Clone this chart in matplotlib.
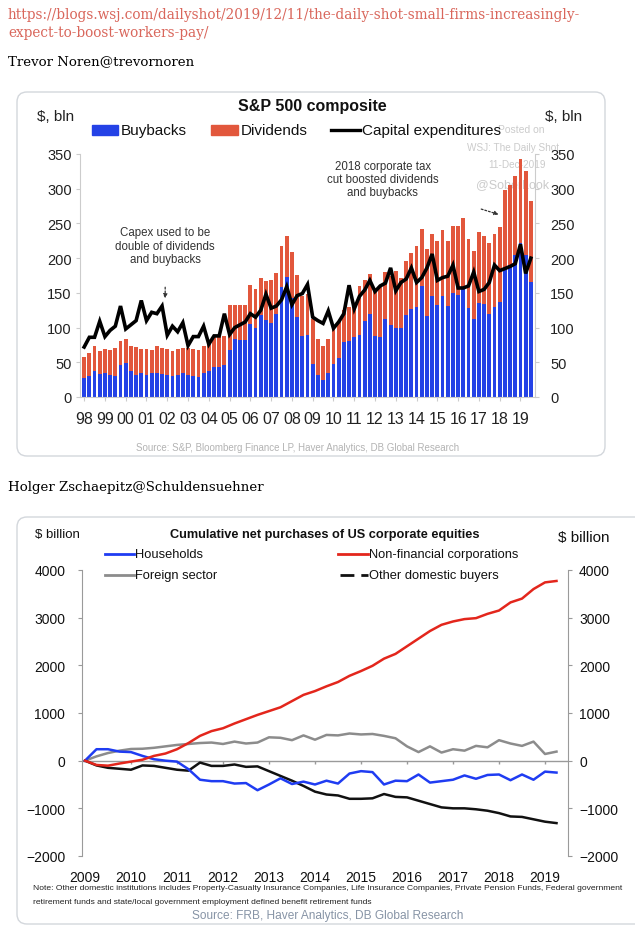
import numpy as np
import matplotlib
matplotlib.use("Agg")
import matplotlib.pyplot as plt
from matplotlib.patches import FancyBboxPatch, Rectangle
from matplotlib.lines import Line2D

# -----------------------------
# Data: S&P 500 composite (quarterly, $ bln)
# -----------------------------
YEAR_LABELS = ["98", "99", "00", "01", "02", "03", "04", "05", "06", "07", "08",
               "09", "10", "11", "12", "13", "14", "15", "16", "17", "18", "19"]

buybacks = [27, 30, 38, 33, 34, 31, 30, 46, 49, 37, 31, 34, 31, 34, 34, 33,
            31, 30, 31, 35, 31, 30, 29, 34, 38, 43, 43, 46, 67, 84, 82, 82,
            105, 100, 118, 111, 106, 119, 158, 173, 143, 115, 88, 89, 48, 31, 24, 34,
            48, 56, 79, 80, 86, 90, 110, 119, 88, 87, 112, 104, 100, 99, 118, 127,
            129, 160, 117, 145, 132, 145, 131, 150, 147, 155, 128, 112, 135, 134, 120, 130,
            137, 185, 190, 205, 222, 205, 165]

dividends = [30, 33, 36, 33, 35, 36, 40, 34, 34, 37, 41, 35, 38, 34, 39, 38,
             38, 36, 38, 36, 40, 39, 38, 40, 42, 44, 44, 42, 65, 48, 50, 50,
             56, 55, 54, 56, 62, 59, 59, 59, 66, 61, 58, 59, 64, 53, 49, 50,
             50, 54, 47, 49, 50, 70, 58, 58, 65, 73, 68, 71, 82, 73, 78, 81,
             89, 82, 96, 90, 93, 95, 93, 97, 99, 103, 100, 99, 103, 98, 102, 105,
             108, 113, 115, 113, 121, 120, 117]

capex = [72, 86, 86, 109, 87, 96, 102, 131, 98, 104, 110, 139, 110, 122, 120, 131,
         89, 102, 94, 107, 74, 87, 87, 102, 76, 88, 88, 120, 90, 100, 104, 108,
         120, 115, 125, 148, 128, 131, 140, 159, 133, 146, 149, 162, 115, 110, 106, 124,
         99, 108, 120, 161, 127, 145, 154, 168, 152, 160, 164, 186, 153, 165, 170, 186,
         165, 172, 186, 206, 168, 172, 174, 190, 157, 157, 160, 180, 152, 155, 165, 190,
         182, 185, 188, 192, 220, 178, 200]

# -----------------------------
# Data: cumulative net purchases of US equities (quarterly from 2009, $ billion)
# -----------------------------
EQ_YEARS = [2009, 2010, 2011, 2012, 2013, 2014, 2015, 2016, 2017, 2018, 2019]

households = [0, 240, 240, 190, 180, 100, 30, 0, -20, -180, -400, -430, -430, -480,
              -470, -620, -500, -370, -490, -440, -500, -420, -480, -270, -220, -240,
              -500, -420, -430, -290, -460, -430, -400, -310, -380, -300, -290, -410,
              -290, -400, -230, -250]

nonfin_corps = [0, -90, -105, -60, -20, 20, 100, 150, 240, 370, 520, 620, 680, 780,
                870, 960, 1040, 1120, 1250, 1380, 1460, 1560, 1650, 1780, 1880, 1990,
                2140, 2240, 2400, 2560, 2720, 2850, 2920, 2970, 2990, 3080, 3150, 3320,
                3400, 3600, 3740, 3770]

foreign = [0, 90, 160, 210, 245, 250, 270, 300, 330, 350, 370, 380, 350, 400,
           360, 380, 490, 480, 430, 530, 440, 540, 530, 570, 550, 560, 520, 470,
           300, 180, 300, 170, 240, 210, 310, 280, 430, 360, 310, 400, 140, 190]

other_domestic = [0, -100, -150, -170, -190, -100, -110, -150, -190, -210, -40, -110,
                  -110, -80, -130, -120, -220, -320, -420, -530, -650, -710, -730, -800,
                  -800, -790, -700, -760, -770, -840, -910, -980, -1000, -1000, -1020,
                  -1050, -1100, -1170, -1180, -1230, -1280, -1310]

# -----------------------------
# Layout helpers (pixel coords, origin top-left)
# -----------------------------
W, H = 635, 929
SANS = ["Liberation Sans", "DejaVu Sans"]
SERIF = ["DejaVu Serif"]
BLUE = "#2442e6"
RED = "#e2573c"


def rect(x0, y0, x1, y1):
    return [x0 / W, 1 - y1 / H, (x1 - x0) / W, (y1 - y0) / H]


def clear_bg(*axes):
    for a in axes:
        a.patch.set_visible(False)


def draw_page(bg):
    url = "#d9665b"
    bg.text(8, 15, "https://blogs.wsj.com/dailyshot/2019/12/11/the-daily-shot-small-firms-increasingly-",
            color=url, fontsize=9.8, family=SERIF, va="center")
    bg.text(8, 33, "expect-to-boost-workers-pay/", color=url, fontsize=9.8, family=SERIF, va="center")
    bg.text(8, 62, "Trevor Noren@trevornoren", color="black", fontsize=9.6, family=SERIF, va="center")
    bg.text(8, 488, "Holger Zschaepitz@Schuldensuehner", color="black", fontsize=9.6,
            family=SERIF, va="center")

    for (x, y, w, h) in [(17, 93, 588, 364), (17, 518, 650, 407)]:
        bg.add_patch(FancyBboxPatch((x, y), w, h, boxstyle="round,pad=0,rounding_size=10",
                                    fc="white", ec="#d3d7dc", lw=1.0))


def draw_buybacks(fig, bg):
    x = np.arange(len(buybacks))
    ax = fig.add_axes(rect(80, 155, 535, 398))
    ax.bar(x, buybacks, width=0.74, color=BLUE, zorder=2)
    ax.bar(x, dividends, bottom=buybacks, width=0.74, color=RED, zorder=2)
    ax.plot(x, capex, color="black", lw=2.6, zorder=3, solid_joinstyle="miter")

    ax.set_xlim(-0.8, len(x) - 0.2)
    ax.set_ylim(0, 350)
    ax.set_yticks(range(0, 351, 50))
    ax.set_xticks(x[::4])
    ax.set_xticklabels(YEAR_LABELS, family=SANS, fontsize=11.5, color="#222222")
    for s in ["top", "right"]:
        ax.spines[s].set_visible(False)
    for s in ["left", "bottom"]:
        ax.spines[s].set_color("#cccccc")
    ax.tick_params(axis="x", length=3, color="#cccccc", pad=7)
    ax.tick_params(axis="y", length=3, color="#cccccc", pad=3, labelsize=10.5, labelcolor="#222222")
    for t in ax.get_yticklabels():
        t.set_family(SANS)

    axr = ax.twinx()
    axr.set_ylim(0, 350)
    axr.set_yticks(range(0, 351, 50))
    for s in ["top", "left", "bottom"]:
        axr.spines[s].set_visible(False)
    axr.spines["right"].set_color("#cccccc")
    axr.tick_params(axis="y", length=3, color="#cccccc", pad=8, labelsize=10.5, labelcolor="#222222")
    for t in axr.get_yticklabels():
        t.set_family(SANS)
    clear_bg(ax, axr)

    # annotations
    ann = dict(fontsize=8.3, color="#333333", family=SANS, ha="center", linespacing=1.15)
    ax.annotate("Capex used to be\ndouble of dividends\nand buybacks", xy=(15.6, 142), xytext=(15.6, 218),
                va="center", arrowprops=dict(arrowstyle="-|>", ls=(0, (1.5, 1.5)), lw=0.9,
                                             color="#333333", mutation_scale=6,
                                             shrinkA=14, shrinkB=0), **ann)
    ax.annotate("2018 corporate tax\ncut boosted dividends\nand buybacks", xy=(79.8, 263), xytext=(57.5, 314),
                va="center", arrowprops=dict(arrowstyle="-|>", ls=(0, (1.5, 1.5)), lw=0.9,
                                             color="#333333", mutation_scale=6,
                                             shrinkA=30, shrinkB=0), **ann)

    # header, legend, watermark, source
    bg.text(312, 106, "S&P 500 composite", ha="center", va="center", fontsize=11.5,
            fontweight="bold", family=SANS, color="#111111")
    bg.text(56, 117, "$, bln", ha="center", va="center", fontsize=11, family=SANS, color="#222222")
    bg.text(564, 117, "$, bln", ha="center", va="center", fontsize=11, family=SANS, color="#222222")

    wm = dict(color="#cbcbcb", family=SANS, ha="center", va="center", zorder=1)
    bg.text(521, 130, "Posted on", fontsize=7.5, **wm)
    bg.text(513, 148, "WSJ: The Daily Shot", fontsize=7.2, **wm)
    bg.text(517, 165, "11-Dec-2019", fontsize=7.2, **wm)
    bg.text(513, 185, "@SoberLook", fontsize=9, **wm)

    leg = dict(fontsize=11, family=SANS, va="center", color="#111111", zorder=6)
    bg.add_patch(Rectangle((92, 126), 26, 10, color=BLUE))
    bg.text(121, 131, "Buybacks", **leg)
    bg.add_patch(Rectangle((211, 126), 27, 10, color=RED))
    bg.text(241, 131, "Dividends", **leg)
    bg.add_line(Line2D([331, 360], [131, 131], color="black", lw=2.4))
    bg.text(362, 131, "Capital expenditures", **leg)

    bg.text(298, 448, "Source: S&P, Bloomberg Finance LP, Haver Analytics, DB Global Research",
            ha="center", va="center", fontsize=7, family=SANS, color="#b3b3b3")


def draw_equities(fig, bg):
    qx = 2009 + np.arange(len(households)) / 4
    ax = fig.add_axes(rect(82, 571, 568, 857))
    ax.set_xlim(2008.935, 2019.5)
    ax.set_ylim(-2000, 4000)
    ax.axhline(0, color="#9a9a9a", lw=1.0, zorder=1)
    ax.vlines(EQ_YEARS[1:], -70, 0, color="#9a9a9a", lw=1.0, zorder=1)

    ax.plot(qx, foreign, color="#8c8c8c", lw=1.8, zorder=2)
    ax.plot(qx, other_domestic, color="#111111", lw=1.8, zorder=2)
    ax.plot(qx, households, color="#1f3cf2", lw=1.8, zorder=3)
    ax.plot(qx, nonfin_corps, color="#e3261c", lw=1.8, zorder=3)

    ax.set_yticks(range(-2000, 4001, 1000))
    ax.set_xticks(EQ_YEARS)
    ax.set_xticklabels([str(y) for y in EQ_YEARS], family=SANS, fontsize=10, color="#111111")
    for s in ["top", "bottom", "right"]:
        ax.spines[s].set_visible(False)
    ax.spines["left"].set_color("#9a9a9a")
    ax.tick_params(axis="x", length=0, pad=10)
    ax.tick_params(axis="y", length=3, color="#9a9a9a", pad=9, labelsize=10, labelcolor="#111111")
    for t in ax.get_yticklabels():
        t.set_family(SANS)

    axr = ax.twinx()
    axr.set_ylim(-2000, 4000)
    axr.set_yticks(range(-2000, 4001, 1000))
    for s in ["top", "left", "bottom"]:
        axr.spines[s].set_visible(False)
    axr.spines["right"].set_color("#9a9a9a")
    axr.tick_params(axis="y", length=3, color="#9a9a9a", pad=5, labelsize=10, labelcolor="#111111")
    for t in axr.get_yticklabels():
        t.set_family(SANS)
    clear_bg(ax, axr)

    bg.text(325, 535, "Cumulative net purchases of US corporate equities", ha="center", va="center",
            fontsize=9.2, fontweight="bold", family=SANS, color="#111111")
    bg.text(57, 535, "$ billion", ha="center", va="center", fontsize=9.5, family=SANS, color="#111111")
    bg.text(584, 538, "$ billion", ha="center", va="center", fontsize=11, family=SANS, color="#111111")

    leg = dict(fontsize=9.3, family=SANS, va="center", color="#111111")
    bg.add_line(Line2D([105, 134], [555, 555], color="#1f3cf2", lw=2))
    bg.text(135, 555, "Households", **leg)
    bg.add_line(Line2D([338, 368], [555, 555], color="#e3261c", lw=2))
    bg.text(369, 555, "Non-financial corporations", **leg)
    bg.add_line(Line2D([105, 134], [576, 576], color="#8c8c8c", lw=2))
    bg.text(135, 576, "Foreign sector", **leg)
    bg.add_line(Line2D([340, 368], [576, 576], color="#111111", lw=2, ls=(0, (5, 2.5))))
    bg.text(369, 576, "Other domestic buyers", **leg)

    note = dict(fontsize=6.1, family=SANS, va="center", color="#222222")
    bg.text(33, 889, "Note: Other domestic institutions includes Property-Casualty Insurance Companies, "
            "Life Insurance Companies, Private Pension Funds, Federal government", **note)
    bg.text(33, 903, "retirement funds and state/local government employment defined benefit retirement funds",
            **note)
    bg.text(328, 916, "Source: FRB, Haver Analytics, DB Global Research", ha="center", va="center",
            fontsize=8.6, family=SANS, color="#8794a6")


# -----------------------------
# Main
# -----------------------------
def main():
    fig = plt.figure(figsize=(W / 100, H / 100), dpi=100)
    fig.patch.set_facecolor("white")
    bg = fig.add_axes([0, 0, 1, 1], zorder=-1)
    bg.set_xlim(0, W)
    bg.set_ylim(H, 0)
    bg.axis("off")

    draw_page(bg)
    draw_buybacks(fig, bg)
    draw_equities(fig, bg)

    fig.savefig("out.png", dpi=100)


if __name__ == "__main__":
    main()
